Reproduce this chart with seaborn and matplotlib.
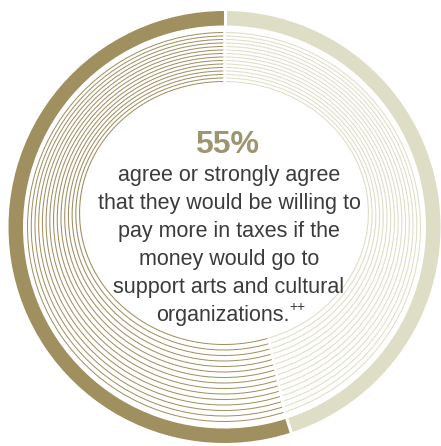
import numpy as np
import matplotlib
matplotlib.use("Agg")
import matplotlib.pyplot as plt
import matplotlib.transforms as mtransforms
import seaborn as sns

sns.set_theme(style="white")
plt.rcParams["font.family"] = ["Liberation Sans", "DejaVu Sans"]

# Survey result: share willing to pay more taxes for the arts
categories = ["Agree or strongly agree", "Other responses"]
shares = [55, 45]
headline = "55%"
caption_lines = [
    "agree or strongly agree",
    "that they would be willing to",
    "pay more in taxes if the",
    "money would go to",
    "support arts and cultural",
    "organizations.",
]
note_mark = "++"

palette = ["#A08F5F", "#DEDDC5"]
headline_color = "#9E9570"
text_color = "#3B3B3B"

W, H = 441, 446
fig = plt.figure(figsize=(W / 100, H / 100), dpi=100)
ax = fig.add_axes([0, 0, 1, 1])

# boundaries between slices, in degrees (counter-clockwise from 12 o'clock)
bounds = np.deg2rad(90 + np.cumsum([0] + shares[:-1]) * 360 / sum(shares))


def ring(cx, cy, rx, ry, width, gap_lw):
    """Donut ring of the two shares; rx/ry give a slightly oval outline."""
    cy = H - cy
    wedges, _ = ax.pie(shares, radius=ry, center=(cx, cy), startangle=90,
                       counterclock=True, colors=palette,
                       wedgeprops=dict(width=width, linewidth=0))
    squash = (mtransforms.Affine2D().translate(-cx, -cy)
              .scale(rx / ry, 1).translate(cx, cy))
    for w in wedges:
        w.set_transform(squash + ax.transData)
    for a in bounds:
        s0, s1 = (ry - width - 0.8) / ry, (ry + 0.8) / ry
        ax.plot([cx + s0 * rx * np.cos(a), cx + s1 * rx * np.cos(a)],
                [cy + s0 * ry * np.sin(a), cy + s1 * ry * np.sin(a)],
                color="white", lw=gap_lw, solid_capstyle="butt", zorder=5)


# thick outer band
ring(224.5, 227, 216, 216, 14.5, 2.2)

# thin inner rings, shrinking and drifting slightly upward
for t in np.linspace(0, 1, 15):
    ring(224, 227 - 14 * t, 197 - 52 * t, 195 - 63 * t, 1.0, 2.0)

ax.set_xlim(0, W)
ax.set_ylim(0, H)
ax.set_aspect("auto")
ax.axis("off")

ax.text(227.5, H - 153, headline, ha="center", va="baseline",
        fontsize=23, fontweight="bold", color=headline_color)
for i, line in enumerate(caption_lines[:-1]):
    ax.text(229, H - (181 + 28 * i), line, ha="center", va="baseline",
            fontsize=15.5, color=text_color)

last = ax.text(223, H - 321, caption_lines[-1], ha="center", va="baseline",
               fontsize=15.5, color=text_color)
fig.canvas.draw()
bb = last.get_window_extent(renderer=fig.canvas.get_renderer())
x_end = ax.transData.inverted().transform((bb.x1, bb.y0))[0]
ax.text(x_end - 0.5, H - 311, note_mark, ha="left", va="baseline",
        fontsize=10, color=text_color)

fig.savefig("out.png", dpi=100, facecolor="white")
